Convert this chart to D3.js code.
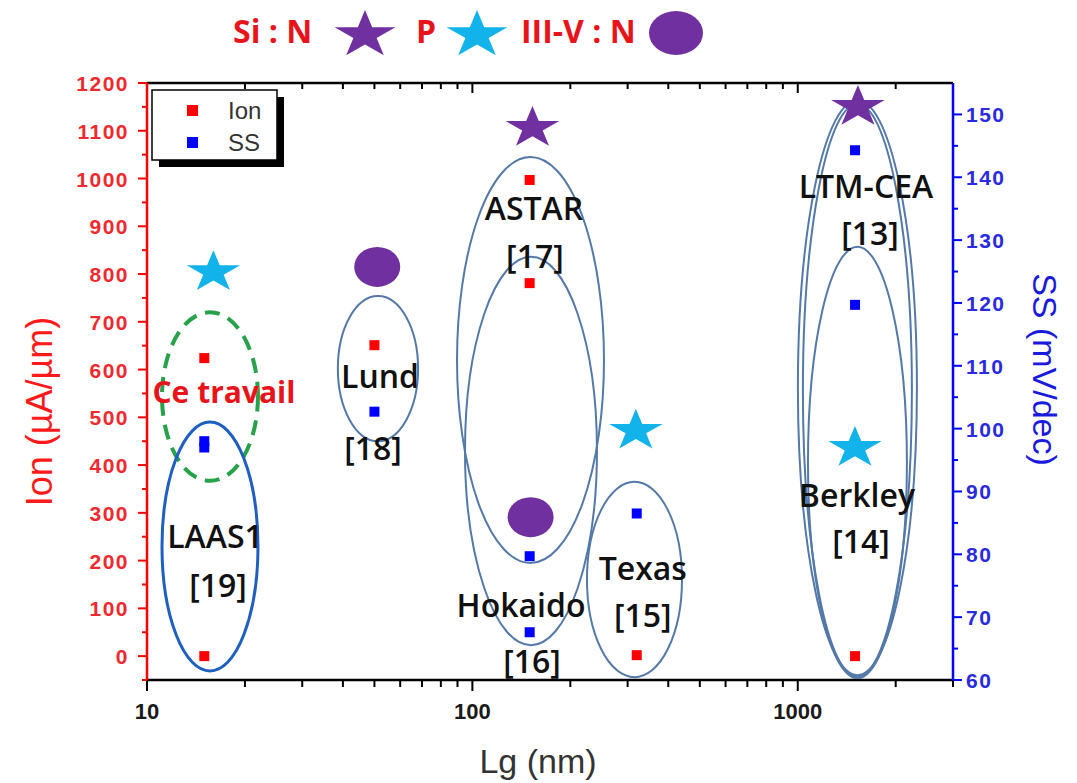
<!DOCTYPE html>
<html><head><meta charset="utf-8">
<script src="https://cdn.jsdelivr.net/npm/d3@7/dist/d3.min.js"></script>
<style>body{margin:0;background:#fff}svg{display:block}</style>
</head><body>
<svg id="chart" width="1077" height="783"></svg>
<script>
// ---- data ----
const ionLg  = [15, 15, 50, 150, 150, 320, 1500];
const ionVal = [624, 0, 651, 997, 781, 2, 0];
const ssLg   = [15, 15, 50, 150, 150, 320, 1500, 1500];
const ssVal  = [98, 97, 102.7, 79.7, 67.6, 86.5, 144.3, 119.7];

const ionTicks = [0,100,200,300,400,500,600,700,800,900,1000,1100,1200];
const ssTicks  = [60,70,80,90,100,110,120,130,140,150];
const xTicks   = [10,100,1000];

// annotation symbols (Lg, Ion coordinates)
const siNStarLg = [153, 1531];
const siNStarIon = [1106, 1150];
const pStarLg = [16, 318, 1499];
const pStarIon = [804, 472, 436];
const iiivLg = [51, 151];
const iiivIon = [815, 291];

// grouping ellipses (Lg range, Ion range)
const ellKind  = ["ours","laas","ref","ref","ref","ref","ref","ref","ref"];
const ellLgLo  = [11.12, 11.12, 38.6, 89.7, 94.9, 225, 1001, 1037, 1075];
const ellLgHi  = [21.93, 21.93, 68.1, 253.8, 241.5, 440.8, 2324, 2243, 2165];
const ellIonHi = [720, 490, 754, 1045, 836, 365, 1164, 1156, 857];
const ellIonLo = [367, -31, 450, 195, 23, -44, -40, -44, -46];

// labels (baseline anchor in Lg, Ion)
const labText = ["ASTAR","[17]","Lund","[18]","LAAS1","[19]","Hokaido","[16]","Texas","[15]","LTM-CEA","[13]","Berkley","[14]"];
const labLg   = [154.6, 155.7, 52, 49.5, 16.18, 16.53, 141.1, 152.5, 334, 334, 1620, 1667, 1520, 1564];
const labIon  = [913, 813, 561, 411, 226, 124, 82, -35, 159, 61, 959, 861, 312, 216];
const oursText = "Ce travail", oursLg = 17.24, oursIon = 530;

// ---- layout ----
const svg = d3.select("#chart");
const L = 147, R = 953, T = 83, B = 680;
const x = d3.scaleLog().domain([10, 3000]).range([L, R]);
const yIon = d3.scaleLinear().domain([-50, 1200]).range([B, T]);
const ySS = d3.scaleLinear().domain([60, 155]).range([B, T]);

const starPath = (r) => d3.symbol().type(d3.symbolStar).size(r * r / 0.8908130915292852)();

// ---- top legend ----
const topG = svg.append("g");
const legTxt = (t, xx) => topG.append("text").attr("x", xx).attr("y", 43)
  .attr("font-family", "Open Sans").attr("font-weight", 700).attr("font-size", 32)
  .attr("fill", "#e8141c").text(t);
legTxt("Si : N", 233);
topG.append("path").attr("d", starPath(25)).attr("fill", "#7030a0")
  .attr("transform", "translate(365,35) scale(1.28,1)");
legTxt("P", 416);
topG.append("path").attr("d", starPath(25)).attr("fill", "#12b2ea")
  .attr("transform", "translate(477,35) scale(1.28,1)");
legTxt("III-V : N", 521);
topG.append("ellipse").attr("cx", 676).attr("cy", 33).attr("rx", 27).attr("ry", 22).attr("fill", "#7030a0");

// ---- axes ----
const xMinor = [];
for (let d = 10; d <= 1000; d *= 10) for (let k = 2; k <= 9; k++) if (d * k <= 3000) xMinor.push(d * k);
const ionMinor = d3.range(-50, 1200, 100);
const ssMinor = d3.range(65, 155, 10);

// bottom
svg.append("g").selectAll("line").data(xMinor).join("line")
  .attr("x1", d => x(d)).attr("x2", d => x(d)).attr("y1", B).attr("y2", B + 7)
  .attr("stroke", "#000").attr("stroke-width", 2);
svg.append("g").selectAll("line").data(xTicks).join("line")
  .attr("x1", d => x(d)).attr("x2", d => x(d)).attr("y1", B).attr("y2", B + 11)
  .attr("stroke", "#000").attr("stroke-width", 2);
svg.append("g").selectAll("text").data(xTicks).join("text")
  .attr("x", d => x(d)).attr("y", B + 39).attr("text-anchor", "middle")
  .attr("font-family", "Liberation Sans Narrow, Liberation Sans").attr("font-weight", 700).attr("font-size", 22)
  .attr("fill", "#1a1a1a").text(d => d);
// top ticks
svg.append("g").selectAll("line").data(xMinor).join("line")
  .attr("x1", d => x(d)).attr("x2", d => x(d)).attr("y1", T).attr("y2", T + 6)
  .attr("stroke", "#000").attr("stroke-width", 2);
svg.append("g").selectAll("line").data(xTicks).join("line")
  .attr("x1", d => x(d)).attr("x2", d => x(d)).attr("y1", T).attr("y2", T + 10)
  .attr("stroke", "#000").attr("stroke-width", 2);

// left (Ion)
svg.append("g").selectAll("line").data(ionMinor).join("line")
  .attr("x1", L - 5).attr("x2", L).attr("y1", d => yIon(d)).attr("y2", d => yIon(d))
  .attr("stroke", "#ff0000").attr("stroke-width", 2);
svg.append("g").selectAll("line").data(ionTicks).join("line")
  .attr("x1", L - 9).attr("x2", L).attr("y1", d => yIon(d)).attr("y2", d => yIon(d))
  .attr("stroke", "#ff0000").attr("stroke-width", 2);
svg.append("g").selectAll("text").data(ionTicks).join("text")
  .attr("x", L - 18).attr("y", d => yIon(d) + 8).attr("text-anchor", "end")
  .attr("font-family", "Liberation Sans").attr("font-weight", 700).attr("font-size", 21)
  .attr("letter-spacing", 1.5).attr("fill", "#ee2a30").text(d => d);

// right (SS)
svg.append("g").selectAll("line").data(ssMinor).join("line")
  .attr("x1", R).attr("x2", R + 5).attr("y1", d => ySS(d)).attr("y2", d => ySS(d))
  .attr("stroke", "#0000ff").attr("stroke-width", 2);
svg.append("g").selectAll("line").data(ssTicks).join("line")
  .attr("x1", R).attr("x2", R + 9).attr("y1", d => ySS(d)).attr("y2", d => ySS(d))
  .attr("stroke", "#0000ff").attr("stroke-width", 2);
svg.append("g").selectAll("text").data(ssTicks).join("text")
  .attr("x", R + 13).attr("y", d => ySS(d) + 8).attr("text-anchor", "start")
  .attr("font-family", "Liberation Sans").attr("font-weight", 700).attr("font-size", 21)
  .attr("letter-spacing", 1.5).attr("fill", "#2a2ae0").text(d => d);

// frame lines
svg.append("line").attr("x1", L).attr("x2", R).attr("y1", T).attr("y2", T).attr("stroke", "#000").attr("stroke-width", 2.5);
svg.append("line").attr("x1", L).attr("x2", R).attr("y1", B).attr("y2", B).attr("stroke", "#000").attr("stroke-width", 2.5);
svg.append("line").attr("x1", L).attr("x2", L).attr("y1", T).attr("y2", B).attr("stroke", "#ff0000").attr("stroke-width", 2.5);
svg.append("line").attr("x1", R).attr("x2", R).attr("y1", T).attr("y2", B).attr("stroke", "#0000ff").attr("stroke-width", 2.5);

// axis titles
svg.append("text").attr("transform", `translate(52,${(T + B) / 2 + 30}) rotate(-90)`)
  .attr("text-anchor", "middle").attr("font-family", "Liberation Sans").attr("font-size", 36)
  .attr("fill", "#ff1a1a").text("Ion (µA/µm)");
svg.append("text").attr("transform", `translate(1033,${(T + B) / 2 - 12}) rotate(90)`)
  .attr("text-anchor", "middle").attr("font-family", "Liberation Sans").attr("font-size", 34)
  .attr("fill", "#1a1add").text("SS (mV/dec)");
svg.append("text").attr("x", (L + R) / 2 - 12).attr("y", 773).attr("text-anchor", "middle")
  .attr("font-family", "Liberation Sans").attr("font-size", 34).attr("fill", "#333")
  .text("Lg (nm)");

// ---- ellipses ----
const ellG = svg.append("g");
ellKind.forEach((k, i) => {
  const x0 = x(ellLgLo[i]), x1 = x(ellLgHi[i]);
  const y0 = yIon(ellIonHi[i]), y1 = yIon(ellIonLo[i]);
  const e = ellG.append("ellipse")
    .attr("cx", (x0 + x1) / 2).attr("cy", (y0 + y1) / 2)
    .attr("rx", (x1 - x0) / 2).attr("ry", (y1 - y0) / 2).attr("fill", "none");
  if (k === "ours") e.attr("stroke", "#27a24a").attr("stroke-width", 4).attr("stroke-dasharray", "15 9");
  else if (k === "laas") e.attr("stroke", "#1f5fbf").attr("stroke-width", 3);
  else e.attr("stroke", "#5479a8").attr("stroke-width", 2);
});

// ---- annotation symbols ----
const symG = svg.append("g");
siNStarLg.forEach((d, i) => symG.append("path").attr("d", starPath(22)).attr("fill", "#7030a0")
  .attr("transform", `translate(${x(d)},${yIon(siNStarIon[i])}) scale(1.28,1)`));
pStarLg.forEach((d, i) => symG.append("path").attr("d", starPath(22)).attr("fill", "#12b2ea")
  .attr("transform", `translate(${x(d)},${yIon(pStarIon[i])}) scale(1.28,1)`));
iiivLg.forEach((d, i) => symG.append("ellipse").attr("cx", x(d)).attr("cy", yIon(iiivIon[i]))
  .attr("rx", 23).attr("ry", 20).attr("fill", "#7030a0"));

// ---- labels ----
svg.append("g").selectAll("text").data(labText).join("text")
  .attr("x", (d, i) => x(labLg[i])).attr("y", (d, i) => yIon(labIon[i]))
  .attr("text-anchor", "middle").attr("font-family", "Open Sans").attr("font-weight", 600)
  .attr("font-size", 32).attr("fill", "#111").text(d => d);
svg.append("text").attr("x", x(oursLg)).attr("y", yIon(oursIon)).attr("text-anchor", "middle")
  .attr("font-family", "Open Sans").attr("font-weight", 700).attr("font-size", 30)
  .attr("fill", "#e8141c").text(oursText);

// ---- data points ----
const sq = 10;
svg.append("g").selectAll("rect").data(ionLg).join("rect")
  .attr("x", (d) => x(d) - sq / 2).attr("y", (d, i) => yIon(ionVal[i]) - sq / 2)
  .attr("width", sq).attr("height", sq).attr("fill", "#ff0000");
svg.append("g").selectAll("rect").data(ssLg).join("rect")
  .attr("x", (d) => x(d) - sq / 2).attr("y", (d, i) => ySS(ssVal[i]) - sq / 2)
  .attr("width", sq).attr("height", sq).attr("fill", "#0000ff");

// ---- inner legend ----
const lg = svg.append("g");
lg.append("rect").attr("x", 159).attr("y", 97).attr("width", 125).attr("height", 70).attr("fill", "#000");
lg.append("rect").attr("x", 152).attr("y", 90).attr("width", 125).attr("height", 70)
  .attr("fill", "#fff").attr("stroke", "#000").attr("stroke-width", 1.5);
lg.append("rect").attr("x", 187).attr("y", 105).attr("width", 11).attr("height", 11).attr("fill", "#ff0000");
lg.append("rect").attr("x", 187).attr("y", 137).attr("width", 11).attr("height", 11).attr("fill", "#0000ff");
lg.append("text").attr("x", 228).attr("y", 119).attr("font-family", "Liberation Sans").attr("font-size", 24)
  .attr("fill", "#333").text("Ion");
lg.append("text").attr("x", 228).attr("y", 151).attr("font-family", "Liberation Sans").attr("font-size", 24)
  .attr("fill", "#333").text("SS");
</script>
</body></html>
